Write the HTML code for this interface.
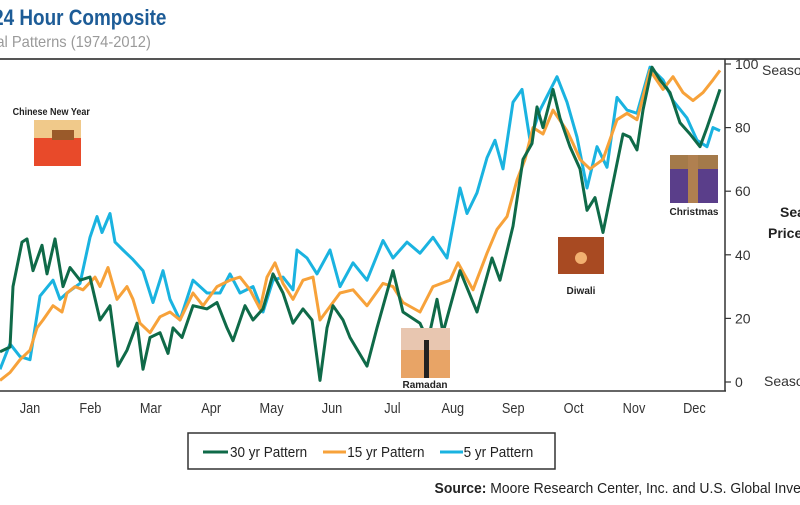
<!DOCTYPE html>
<html><head><meta charset="utf-8"><style>
body{margin:0;background:#fff;width:800px;height:500px;overflow:hidden}
svg text{font-family:"Liberation Sans",sans-serif}
</style></head><body>
<svg id="chart" width="800" height="500" xmlns="http://www.w3.org/2000/svg">
<g>
<text x="-8" y="25" font-size="22" font-weight="bold" fill="#1d5c97" transform="scale(0.86,1)">24 Hour Composite</text>
<text x="-4" y="47" font-size="16" fill="#9a9a9a" transform="scale(0.92,1)">al Patterns (1974-2012)</text>
<rect x="0" y="58" width="800" height="2" fill="#555"/>
</g>
<g id="plot"></g>
<g id="raxis"></g>
<g id="xaxis"></g>
<g>
<text x="14" y="115" font-size="10" font-weight="bold" fill="#222" transform="scale(0.9,1)">Chinese New Year</text>
<rect x="34" y="120" width="47" height="46" fill="#e84a2a"/>
<rect x="34" y="120" width="47" height="18" fill="#f0c98a"/>
<rect x="52" y="130" width="22" height="10" fill="#9a5a2a"/>
<rect x="401" y="328" width="49" height="50" fill="#e8a466"/>
<rect x="401" y="328" width="49" height="22" fill="#e8c6b0"/>
<rect x="424" y="340" width="5" height="38" fill="#222"/>
<text x="425" y="388" font-size="10" font-weight="bold" fill="#222" text-anchor="middle">Ramadan</text>
<rect x="558" y="237" width="46" height="37" fill="#a84a22"/>
<circle cx="581" cy="258" r="6" fill="#f2b070"/>
<text x="581" y="294" font-size="10" font-weight="bold" fill="#222" text-anchor="middle">Diwali</text>
<rect x="670" y="155" width="48" height="48" fill="#5a3e8a"/>
<rect x="670" y="155" width="48" height="14" fill="#a47a4a"/>
<rect x="688" y="155" width="10" height="48" fill="#b08050"/>
<text x="694" y="215" font-size="10" font-weight="bold" fill="#222" text-anchor="middle">Christmas</text>
</g>
<g>
<rect x="188" y="433" width="367" height="36" fill="#fff" stroke="#333" stroke-width="1.5"/>
<g><line x1="203" y1="452" x2="228" y2="452" stroke="#0f6a48" stroke-width="3"/><text x="230" y="457" font-size="15" fill="#222" transform="translate(23,0) scale(0.9,1)">30 yr Pattern</text></g>
<g><line x1="323" y1="452" x2="346" y2="452" stroke="#f7a23a" stroke-width="3"/><text x="347" y="457" font-size="15" fill="#222" transform="translate(35,0) scale(0.9,1)">15 yr Pattern</text></g>
<g><line x1="440" y1="452" x2="463" y2="452" stroke="#1ab3e0" stroke-width="3"/><text x="464" y="457" font-size="15" fill="#222" transform="translate(46,0) scale(0.9,1)">5 yr Pattern</text></g>
</g>
<text x="435" y="493" font-size="15" fill="#222" transform="translate(30,0) scale(0.93,1)"><tspan font-weight="bold">Source:</tspan> Moore Research Center, Inc. and U.S. Global Investors</text>
</svg>
<script>
const months=["Jan","Feb","Mar","Apr","May","Jun","Jul","Aug","Sep","Oct","Nov","Dec"];
const yTicks=[0,20,40,60,80,100];
const days30=[0,5,6.5,11,13.5,16.5,21,23.5,27.5,31.5,35,40,45,50,55,59,63.5,68.5,71.5,75,80,84,86.5,91,96.5,103.5,108.5,113.5,116.5,122.5,126.5,131.5,136.5,141.5,146.5,151.5,156,160,163.5,166.5,171.5,175,183.5,188.5,196.5,201.5,210,214,218.5,221.5,230,238.5,246,250,256.5,261.5,266,268.5,271.5,276.5,280,285,290,293.5,297.5,301.5,306,311.5,315,318.5,321.5,326,330,335,340,345,350,353.5,356.5,360];
const vals30=[9.5,11,30,44,45,35,43,34,45,30,36,32,33,19.5,24,5,10,18.5,4,14,15.5,9,17,14,24,23,25,17,13,24,19.5,23,34,28,18.5,23,19.5,0.5,17,24,19.5,14,5,17,35,22,18.5,13,26,15.5,35,22,39,32,49,70,75,86.5,80,92,83,74,67,54,58,47,61,78,77,73,85.5,99,95,91,81.5,78,74,80,85.5,92];
const days15=[0,5,10,15,18.5,21.5,26.5,31,33.5,37.5,41.5,47.5,50,54,58.5,63.5,66.5,70,75,80,85,90,96.5,101.5,108.5,115,120,125,130,133.5,137.5,141.5,146.5,151.5,156.5,160,170,176.5,183.5,191.5,196.5,201.5,210,216.5,225,229,236.5,243.5,248.5,253.5,258.5,262.5,266.5,271.5,276.5,283.5,286.5,290,295,301.5,308.5,313.5,318.5,325,331.5,336.5,341.5,346.5,351.5,356.5,360];
const vals15=[0.5,3,7,10,17,19.5,24,22,28,30,29,33,30,36,26,30,26,18.5,15.5,20.5,22,19.5,28,24,30,32,33,29,23,33,37.5,31,26,32,33,19.5,28,29,24,31,30,25,22,30,32,37.5,29,40.5,48,52,63.5,70,80,78,85.5,79,75,70,67,70,82.5,84.5,82.5,98,92,96,91,88.5,91,95,98];
const days5=[0,5,10,15,20,26.5,30,33.5,40,45,48.5,51,55,57.5,61.5,66.5,71.5,76.5,81.5,85,90,96.5,103.5,110,115,120,126.5,131.5,136.5,141.5,146.5,148.5,153.5,158.5,165,170,176.5,183.5,191.5,196.5,203.5,210,216.5,223.5,230,233.5,238.5,243.5,247.5,251.5,256.5,261,265,270,278.5,283.5,288.5,293.5,298.5,303.5,308.5,313.5,318.5,325,331.5,336.5,343.5,348.5,353.5,356.5,360];
const vals5=[4,12,8,7,27,32,26,28,31,45.5,52,47,53,44,41.5,38.5,35,25,35,26,19.5,32,28,28,34,28,30,22,32,33,29,41.5,39,34,41.5,30,37.5,32,44.5,39,44,40.5,45.5,39,61,53,59.5,70.5,76,67,88,92,76,85.5,96,88,77,61,74,67.5,89.5,85.5,84.5,99,95,88.5,83,76,74,80,79];

const NS="http://www.w3.org/2000/svg";
const X0=0,X1=725,Y0=382,Y1=64;
const xScale=d=>X0+(d/362.5)*(X1-X0);
const yScale=v=>Y0-(v/100)*(Y0-Y1);
function mk(tag,attrs,parent){const e=document.createElementNS(NS,tag);for(const k in attrs)e.setAttribute(k,attrs[k]);parent.appendChild(e);return e;}
const plot=document.getElementById('plot');
const series=[[days30,vals30,"#0f6a48","line-30yr"],[days15,vals15,"#f7a23a","line-15yr"],[days5,vals5,"#1ab3e0","line-5yr"]];
series.slice().reverse().forEach(s=>{
  const d=s[0].map((t,i)=>(i?"L":"M")+xScale(t).toFixed(1)+","+yScale(s[1][i]).toFixed(1)).join("");
  const p=mk('path',{d:d,fill:"none",stroke:s[2],"stroke-width":"3","stroke-linejoin":"round"},plot);
  
  
});
const ra=document.getElementById('raxis');
const axl=mk('line',{x1:725,y1:59,x2:725,y2:391,stroke:"#333","stroke-width":"1.5"},ra);


const bxl=mk('line',{x1:0,y1:391,x2:726,y2:391,stroke:"#333","stroke-width":"1.5"},ra);


yTicks.forEach(v=>{
  const y=yScale(v);
  mk('line',{x1:725,y1:y,x2:731,y2:y,stroke:"#333","stroke-width":"1.2"},ra);
  const t=mk('text',{x:735,y:y+5,"font-size":"14",fill:"#333"},ra);
  t.textContent=v;
  
  
});
const s1=mk('text',{x:762,y:75,"font-size":"14",fill:"#333"},ra);s1.textContent="Seasonal High";


const s2=mk('text',{x:764,y:386,"font-size":"14",fill:"#333"},ra);s2.textContent="Seasonal Low";


const s3=mk('text',{x:780,y:217,"font-size":"14","font-weight":"bold",fill:"#222"},ra);s3.textContent="Seasonal";


const s4=mk('text',{x:768,y:238,"font-size":"14","font-weight":"bold",fill:"#222"},ra);s4.textContent="Price Index";


const xa=document.getElementById('xaxis');
months.forEach((m,i)=>{
  const cx=xScale(i*30.2+15);
  const t=mk('text',{x:cx/0.85,y:413,"font-size":"15",fill:"#333","text-anchor":"middle",transform:"scale(0.85,1)"},xa);
  t.textContent=m;
  
  
});
</script>
</body></html>
